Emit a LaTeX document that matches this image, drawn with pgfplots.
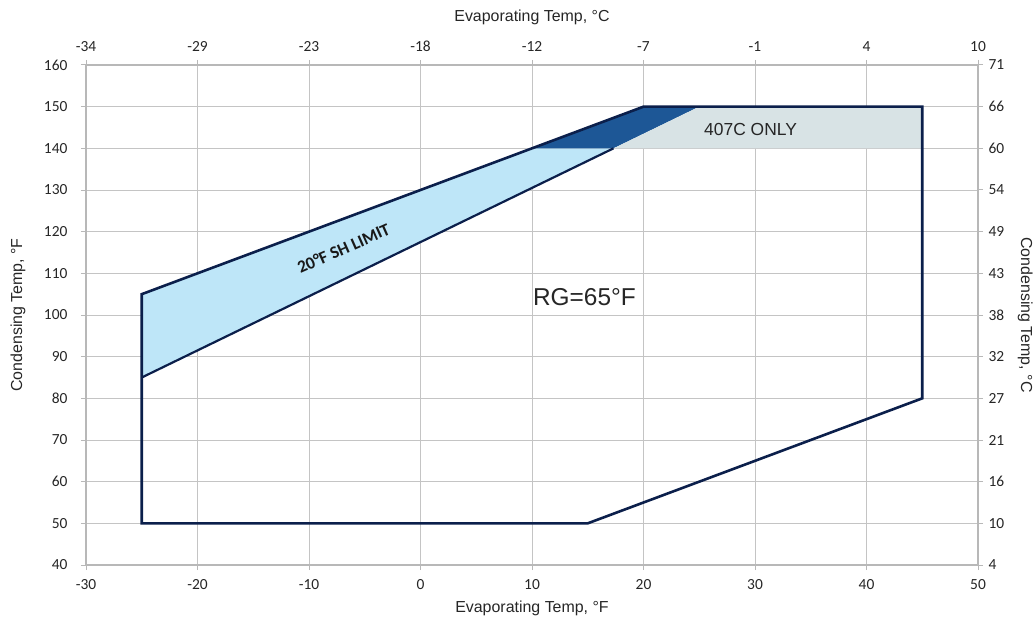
\documentclass[border=0pt]{standalone}
\usepackage{pgfplots}
\pgfplotsset{compat=1.18}
\usepackage{fontspec}
\setmainfont{Carlito}
\newfontfamily\arial{Liberation Sans}
\definecolor{navy}{HTML}{0B1F4B}
\definecolor{lblue}{HTML}{BEE6F8}
\definecolor{dblue}{HTML}{1D5796}
\definecolor{lgrey}{HTML}{D8E3E5}
\definecolor{gridc}{HTML}{C4C4C4}
\definecolor{axc}{HTML}{B8B8B8}
\pgfplotsset{
  common/.style={
    scale only axis, width=892bp, height=500bp,
    xmin=-30, xmax=50, ymin=40, ymax=160,
    xtick={-30,-20,...,50}, ytick={40,50,...,160},
    axis line style={axc, line width=1.2pt},
    tick style={axc, line width=1pt},
    tick align=outside,
    major tick length=5bp,
    ticklabel style={font=\fontsize{15.5}{17}\selectfont, text=black!85},
    label style={font=\arial\fontsize{16}{18}\selectfont, text=black!85},
    /pgf/number format/assume math mode=true,
  }
}
\begin{document}
\begin{tikzpicture}
\begin{axis}[common,
  axis x line*=bottom, axis y line*=left,
  grid=major, grid style={gridc, line width=0.9pt},
  xticklabels={-30,-20,-10,0,10,20,30,40,50},
  yticklabels={40,50,60,70,80,90,100,110,120,130,140,150,160},
  xticklabel style={yshift=-6bp},
  yticklabel style={xshift=-10bp},
  xlabel={Evaporating Temp, °F},
  ylabel={Condensing Temp, °F},
  xlabel style={at={(axis description cs:0.5,-0.086)}, anchor=center},
  ylabel style={at={(axis description cs:-0.0762,0.5)}, anchor=center},
  clip=false]
\addplot[draw=none, fill=lblue] coordinates {(-25,85) (-25,105) (10,140) (17.31,140)} -- cycle;
\addplot[draw=none, fill=dblue] coordinates {(10,140) (20,150) (25,150) (17.31,140)} -- cycle;
\addplot[draw=none, fill=lgrey] coordinates {(17.31,140) (25,150) (45,150) (45,140)} -- cycle;
\addplot[navy, line width=2.2bp] coordinates {(-25,85) (17.31,140)};
\addplot[navy, line width=2.6bp, line join=miter] coordinates {(-25,50) (-25,105) (20,150) (45,150) (45,80) (15,50)} -- cycle;
\node[font=\arial\fontsize{24.5}{28}\selectfont, text=black!85] at (axis cs:14.7,104.2) {RG=65°F};
\node[font=\arial\fontsize{17.5}{19}\selectfont, text=black!85] at (axis cs:29.6,144.4) {407C ONLY};
\node[font=\bfseries\fontsize{17.5}{19}\selectfont, text=black!90, rotate=24] at (axis cs:-6.9,116.0) {20°F SH LIMIT};
\coordinate (ll) at (rel axis cs:0,0);
\coordinate (ur) at (rel axis cs:1,1);
\end{axis}
\begin{axis}[common,
  axis x line*=top, axis y line*=right,
  xticklabels={-34,-29,-23,-18,-12,-7,-1,4,10},
  yticklabels={4,10,16,21,27,32,38,43,49,54,60,66,71},
  xticklabel style={yshift=5bp},
  yticklabel style={xshift=2bp},
  xlabel={Evaporating Temp, °C},
  ylabel={Condensing Temp, °C},
  xlabel style={at={(axis description cs:0.5,1.096)}, anchor=center},
  ylabel style={at={(axis description cs:1.053,0.5)}, anchor=center, rotate=180},
  ]
\end{axis}
\pgfresetboundingbox
\path ([shift={(-86bp,-60bp)}]ll) rectangle ([shift={(57bp,65bp)}]ur);
\end{tikzpicture}
\end{document}
